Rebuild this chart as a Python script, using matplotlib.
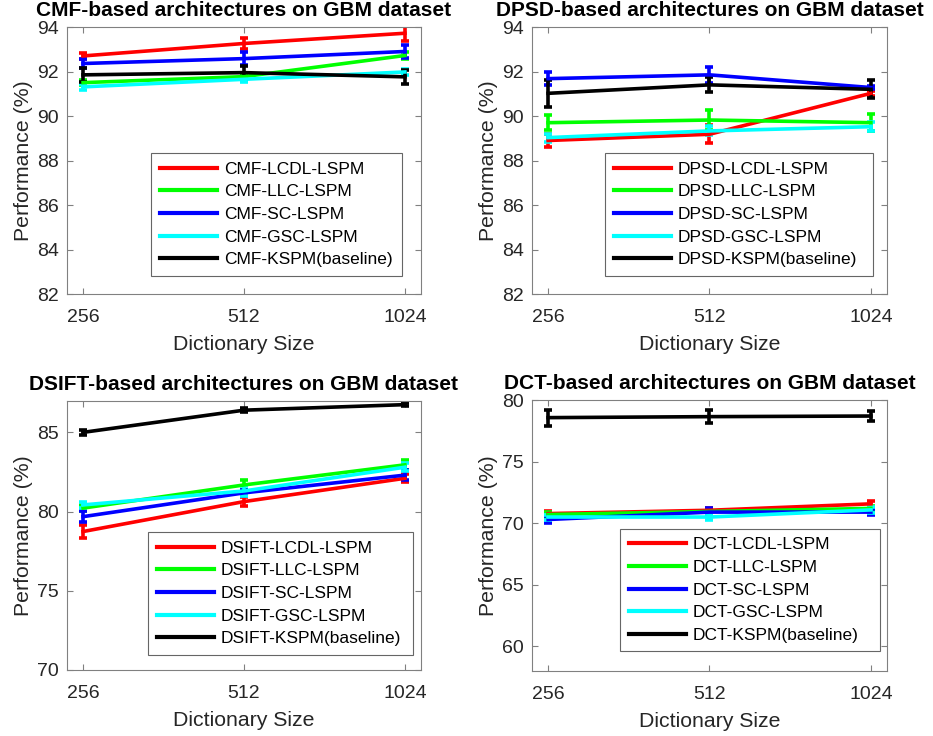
import matplotlib
matplotlib.use("Agg")
import matplotlib.pyplot as plt

plt.rcParams['font.family'] = ['Liberation Sans', 'DejaVu Sans']

dict_sizes = ["256", "512", "1024"]
colors = ["#ff0000", "#00ff00", "#0000ff", "#00ffff", "#000000"]
methods = ["LCDL-LSPM", "LLC-LSPM", "SC-LSPM", "GSC-LSPM", "KSPM(baseline)"]

# CMF
cmf_vals = [[92.70, 93.26, 93.72],
            [91.50, 91.77, 92.72],
            [92.36, 92.58, 92.90],
            [91.31, 91.65, 91.98],
            [91.85, 91.95, 91.76]]
cmf_err = [[0.15, 0.26, 0.35],
           [0.12, 0.12, 0.15],
           [0.19, 0.30, 0.28],
           [0.12, 0.12, 0.15],
           [0.30, 0.30, 0.32]]

# DPSD
dpsd_vals = [[88.90, 89.18, 91.02],
             [89.70, 89.82, 89.70],
             [91.68, 91.85, 91.28],
             [89.03, 89.33, 89.52],
             [91.02, 91.40, 91.20]]
dpsd_err = [[0.30, 0.41, 0.10],
            [0.34, 0.43, 0.39],
            [0.28, 0.36, 0.08],
            [0.18, 0.20, 0.20],
            [0.62, 0.34, 0.41]]

# DSIFT
dsift_vals = [[78.74, 80.63, 82.10],
              [80.22, 81.68, 82.95],
              [79.68, 81.18, 82.30],
              [80.42, 81.30, 82.80],
              [85.00, 86.40, 86.75]]
dsift_err = [[0.44, 0.28, 0.25],
             [0.20, 0.30, 0.30],
             [0.35, 0.20, 0.30],
             [0.20, 0.30, 0.25],
             [0.15, 0.12, 0.10]]

# DCT
dct_vals = [[70.78, 71.05, 71.57],
            [70.70, 70.95, 71.20],
            [70.30, 70.90, 70.90],
            [70.50, 70.50, 71.08],
            [78.57, 78.65, 78.70]]
dct_err = [[0.25, 0.20, 0.25],
           [0.20, 0.20, 0.20],
           [0.25, 0.30, 0.25],
           [0.20, 0.25, 0.25],
           [0.65, 0.50, 0.37]]

panels = [
    ("CMF", cmf_vals, cmf_err, (82, 94), [82, 84, 86, 88, 90, 92, 94]),
    ("DPSD", dpsd_vals, dpsd_err, (82, 94), [82, 84, 86, 88, 90, 92, 94]),
    ("DSIFT", dsift_vals, dsift_err, (70, 87), [70, 75, 80, 85]),
    ("DCT", dct_vals, dct_err, (58, 80), [60, 65, 70, 75, 80]),
]

positions = [
    [0.0718, 0.6005, 0.3794, 0.3628],
    [0.5702, 0.6005, 0.3805, 0.3628],
    [0.0718, 0.0897, 0.3794, 0.3659],
    [0.5702, 0.0883, 0.3805, 0.3682],
]
legend_anchor = [
    (151/933, 1 - 277/736, 251/933, 125/736),
    (605/933, 1 - 277/736, 268/933, 125/736),
    (148/933, 1 - 652/736, 265/933, 117/736),
    (620/933, 1 - 650/736, 260/933, 120/736),
]

fig = plt.figure(figsize=(9.33, 7.36), dpi=100)
text_c = "#262626"
spine_c = "#808080"
x = [1, 2, 3]

for (name, vals, errs, ylim, yticks), pos, la in zip(panels, positions, legend_anchor):
    ax = fig.add_axes(pos)
    for v, e, c, m in zip(vals, errs, colors, methods):
        ax.errorbar(x, v, yerr=e, color=c, lw=2.6, elinewidth=2.6,
                    capsize=3, capthick=2.6, label=f"{name}-{m}")
    ax.set_xlim(0.9, 3.1)
    ax.set_ylim(*ylim)
    ax.set_xticks(x)
    ax.set_xticklabels(dict_sizes)
    ax.set_yticks(yticks)
    ax.tick_params(direction='in', top=True, right=True, length=4,
                   labelsize=14, colors=spine_c, labelcolor=text_c)
    ax.tick_params(axis='x', pad=11)
    ax.tick_params(axis='y', pad=6)
    for s in ax.spines.values():
        s.set_color(spine_c)
        s.set_linewidth(0.8)
    ax.set_xlabel("Dictionary Size", fontsize=15.3, color=text_c, labelpad=6)
    ax.set_ylabel("Performance (%)", fontsize=15.3, color=text_c, labelpad=3)
    ax.set_title(f"{name}-based architectures on GBM dataset", fontsize=15,
                 fontweight='bold', color='black', pad=8)
    leg = ax.legend(handles=[plt.Line2D([], [], color=c, lw=3) for c in colors],
                    labels=[f"{name}-{m}" for m in methods],
                    loc='center', bbox_to_anchor=la, bbox_transform=fig.transFigure,
                    mode='expand', borderaxespad=0,
                    fontsize=12.5, frameon=True, fancybox=False, handlelength=3.3,
                    labelspacing=0.43, borderpad=0.5, handletextpad=0.4)
    leg.get_frame().set_edgecolor("#404040")
    leg.get_frame().set_linewidth(0.8)
    for t in leg.get_texts():
        t.set_color("black")

fig.savefig("out.png", dpi=100)
